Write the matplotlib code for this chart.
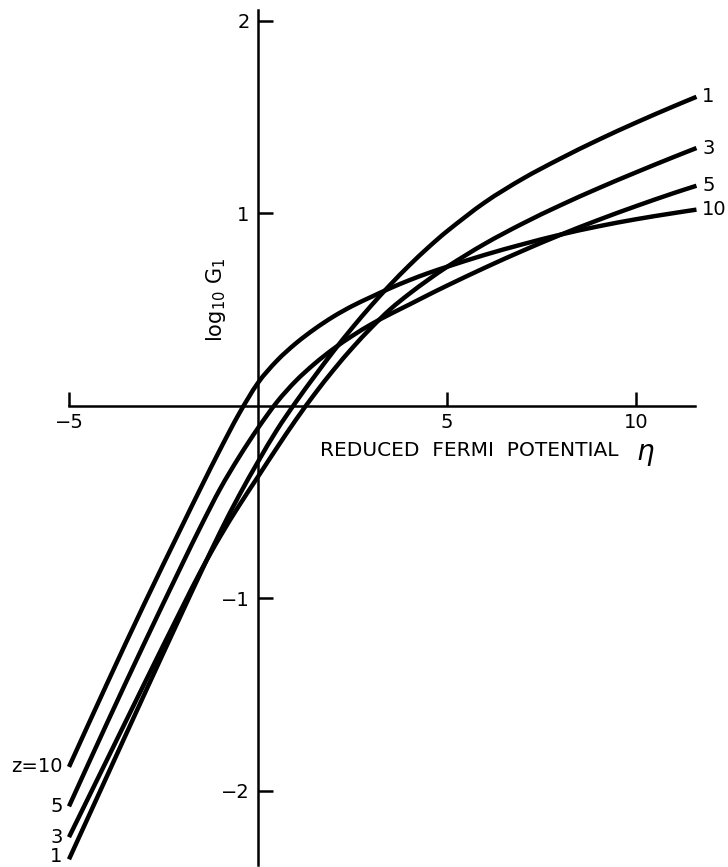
import matplotlib
matplotlib.use("Agg")
import matplotlib.pyplot as plt
from matplotlib.path import Path
from matplotlib.patches import PathPatch

# reduced Fermi potential grid
eta = [-5, -4, -3, -2, -1.5, -1, -0.5, 0, 0.5, 1, 1.5, 2, 2.5, 3, 3.5,
       4, 4.5, 5, 6, 7, 8, 9, 10, 11, 11.6]

# log10 G1 for each z
g_z1 = [-2.355, -1.925, -1.495, -1.07, -0.86, -0.655, -0.465, -0.29, -0.125, 0.02,
        0.155, 0.285, 0.4075, 0.5225, 0.63, 0.73, 0.8225, 0.9075, 1.0575, 1.18,
        1.285, 1.382, 1.472, 1.557, 1.606]
g_z3 = [-2.24, -1.84, -1.44, -1.045, -0.8525, -0.6775, -0.5175, -0.3675, -0.2175, -0.0725,
        0.0625, 0.1875, 0.3025, 0.4075, 0.5025, 0.5825, 0.655, 0.7225, 0.8425, 0.9475,
        1.0425, 1.1305, 1.2135, 1.2935, 1.34]
g_z5 = [-2.08, -1.65, -1.23, -0.82, -0.62, -0.43, -0.265, -0.115, 0.02, 0.13,
        0.22, 0.2975, 0.365, 0.425, 0.4775, 0.5265, 0.5765, 0.625, 0.718, 0.806,
        0.889, 0.966, 1.038, 1.106, 1.144]
g_z10 = [-1.875, -1.445, -1.025, -0.62, -0.42, -0.225, -0.04, 0.12, 0.235, 0.325,
         0.40, 0.465, 0.52, 0.567, 0.612, 0.653, 0.69, 0.723, 0.785, 0.84,
         0.89, 0.933, 0.97, 1.002, 1.02]

curves = [("1", g_z1), ("3", g_z3), ("5", g_z5), ("10", g_z10)]
left_names = {"1": "1", "3": "3", "5": "5", "10": "z=10"}

x_ticks = [-5, 5, 10]
x_tick_labels = ["\u22125", "5", "10"]
y_ticks = [-2, -1, 1, 2]
y_tick_labels = ["\u22122", "\u22121", "1", "2"]

plt.rcParams["font.family"] = ["DejaVu Sans"]


def smooth_path(xs, ys):
    """Cubic Hermite (Bezier) path passing through every given point."""
    n = len(xs)
    slopes = []
    for i in range(n):
        if i == 0:
            s = (ys[1] - ys[0]) / (xs[1] - xs[0])
        elif i == n - 1:
            s = (ys[-1] - ys[-2]) / (xs[-1] - xs[-2])
        else:
            s = (ys[i + 1] - ys[i - 1]) / (xs[i + 1] - xs[i - 1])
        slopes.append(s)
    verts = [(xs[0], ys[0])]
    codes = [Path.MOVETO]
    for i in range(n - 1):
        h = xs[i + 1] - xs[i]
        verts.append((xs[i] + h / 3, ys[i] + slopes[i] * h / 3))
        verts.append((xs[i + 1] - h / 3, ys[i + 1] - slopes[i + 1] * h / 3))
        verts.append((xs[i + 1], ys[i + 1]))
        codes += [Path.CURVE4] * 3
    return Path(verts, codes)


fig = plt.figure(figsize=(7.28, 8.67), dpi=100)
ax = fig.add_axes([0, 0, 1, 1])
ax.set_xlim(-6.825, 12.434)
ax.set_ylim(-2.395, 2.109)
ax.patch.set_visible(False)

for side in ("top", "right"):
    ax.spines[side].set_visible(False)
ax.spines["left"].set_position(("data", 0))
ax.spines["bottom"].set_position(("data", 0))
ax.spines["left"].set_bounds(-2.385, 2.057)
ax.spines["bottom"].set_bounds(-5, 11.56)
for side in ("left", "bottom"):
    ax.spines[side].set_linewidth(1.8)
    ax.spines[side].set_color("black")

ax.set_xticks(x_ticks)
ax.set_xticklabels(x_tick_labels)
ax.set_yticks(y_ticks)
ax.set_yticklabels(y_tick_labels)
ax.tick_params(axis="x", direction="in", length=10, width=1.8, pad=5, labelsize=14)
ax.tick_params(axis="y", direction="in", length=11, width=1.8, pad=6, labelsize=14)

for name, vals in curves:
    ax.add_patch(PathPatch(smooth_path(eta, vals), fill=False, edgecolor="black",
                           lw=3.2, capstyle="butt", joinstyle="round"))
    ax.text(eta[-1] + 0.15, vals[-1], name, ha="left", va="center", fontsize=14)
    if name == "1":
        ax.text(eta[0] - 0.17, -2.392, left_names[name], ha="right", va="bottom",
                fontsize=14)
    else:
        ax.text(eta[0] - 0.17, vals[0], left_names[name], ha="right", va="center",
                fontsize=14)

ax.text(-1.1, 0.55, r"$\mathregular{log_{10}\ G_1}$", rotation=90,
        ha="center", va="center", fontsize=15)
ax.text(1.65, -0.23, "REDUCED  FERMI  POTENTIAL", ha="left", va="center",
        fontsize=14.5)
ax.text(10.0, -0.25, r"$\eta$", ha="left", va="center", fontsize=20)

fig.savefig("out.png", dpi=100)
